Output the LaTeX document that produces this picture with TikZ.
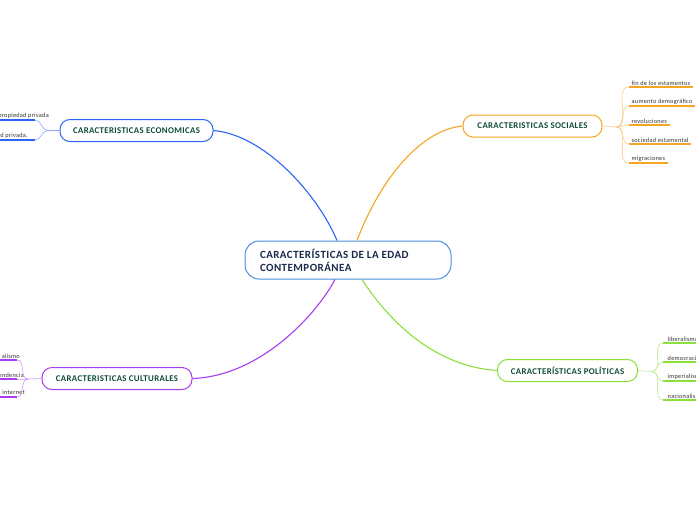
\documentclass[tikz,border=0pt]{standalone}
\usepackage{fontspec}
\setmainfont{Carlito}[LetterSpace=4]
\usepackage{xcolor}
\usetikzlibrary{positioning, calc}

\definecolor{hubblue}{HTML}{4A90D9}
\definecolor{hubtext}{HTML}{1C2B4B}
\definecolor{brtext}{HTML}{0F4D3A}
\definecolor{ecoblue}{HTML}{2B65F5}
\definecolor{socorange}{HTML}{F5A623}
\definecolor{culpurple}{HTML}{A93BF0}
\definecolor{polgreen}{HTML}{8BE03C}
\definecolor{leafgray}{HTML}{333333}

\begin{document}
\begin{tikzpicture}[
        x=1pt, y=-1pt,
        hub/.style={draw=hubblue, line width=1pt, rounded corners=14pt, minimum width=206pt, minimum height=38pt, text width=176pt, align=flush left, font=\fontsize{11}{13}\selectfont\bfseries, text=hubtext, fill=white},
        branch/.style={draw=#1, line width=1pt, rounded corners=10pt, minimum height=22pt, font=\fontsize{8.8}{10}\selectfont\bfseries, text=brtext, fill=white},
        leaf/.style={font=\fontsize{6.3}{8}\selectfont, text=leafgray, inner xsep=2.5pt, inner ysep=1.5pt},
        link/.style={line width=1.1pt, #1},
        twig/.style={line width=0.6pt, #1!55},
        uline/.style={line width=1.5pt, #1},
    ]
    \fill[white] (0,0) rectangle (696,520);
    \useasboundingbox (0,0) rectangle (696,520);
    \clip (0,0) rectangle (696,520);

    % ---- CENTRE ----
    \node[hub] (hub) at (348,260) {CARACTERÍSTICAS DE LA EDAD\\CONTEMPORÁNEA};

    % ---- BRANCHES ----
    \node[branch=ecoblue, minimum width=153pt] (econ) at (136.5,130.5) {CARACTERISTICAS ECONOMICAS};
    \node[branch=socorange, minimum width=139pt] (soc) at (532.5,126) {CARACTERISTICAS SOCIALES};
    \node[branch=culpurple, minimum width=150pt] (cult) at (117,378.5) {CARACTERISTICAS CULTURALES};
    \node[branch=polgreen, minimum width=140pt] (pol) at (567.5,370.5) {CARACTERÍSTICAS POLÍTICAS};

    % ---- LINKS (centre to branches) ----
    \draw[link=ecoblue] ([xshift=-11pt]hub.north) .. controls (318,195) and (265,135) .. (econ.east);
    \draw[link=socorange] ([xshift=9pt]hub.north) .. controls (380,180) and (420,130) .. (soc.west);
    \draw[link=culpurple] ([xshift=-13pt]hub.south) .. controls (318,312) and (262,376) .. (cult.east);
    \draw[link=polgreen] ([xshift=14pt]hub.south) .. controls (385,315) and (430,366) .. (pol.west);

    % ---- SOCIALES leaves ----
    \coordinate (socj) at (616,127);
    \node[leaf, anchor=south west] (soc1) at (629,87) {fin de los estamentos};
    \node[leaf, anchor=south west] (soc2) at (629,106) {aumento demográfico};
    \node[leaf, anchor=south west] (soc3) at (629,125) {revoluciones};
    \node[leaf, anchor=south west] (soc4) at (629,144) {sociedad estamental};
    \node[leaf, anchor=south west] (soc5) at (629,163) {migraciones};
    \draw[twig=socorange] (soc.east) -- (socj);
    \foreach \l in {soc1,soc2,soc3,soc4,soc5} {
        \draw[twig=socorange] (socj) to[out=0, in=180] (\l.south west);
        \draw[uline=socorange] (\l.south west) -- (\l.south east);
    }

    % ---- POLITICAS leaves ----
    \coordinate (polj) at (652,371.5);
    \node[leaf, anchor=south west, inner xsep=4.5pt] (pol1) at (663,343) {liberalismo};
    \node[leaf, anchor=south west, inner xsep=4.5pt] (pol2) at (663,362) {democracia};
    \node[leaf, anchor=south west, inner xsep=4.5pt] (pol3) at (663,381) {imperialismo};
    \node[leaf, anchor=south west, inner xsep=4.5pt] (pol4) at (663,400) {nacionalismo};
    \draw[twig=polgreen] (pol.east) -- (polj);
    \foreach \l in {pol1,pol2,pol3,pol4} {
        \draw[twig=polgreen] (polj) to[out=0, in=180] (\l.south west);
        \draw[uline=polgreen, line width=2pt] (\l.south west) -- (\l.south east);
    }

    % ---- ECONOMICAS leaves ----
    \coordinate (econj) at (48,130.5);
    \coordinate (econ1u) at (35,120);
    \coordinate (econ2u) at (35,140);
    \node[leaf, anchor=south east] (econ1) at (51.5,120) {propiedad privada};
    \node[leaf, anchor=south east] (econ2) at (30.5,140) {d privada,};
    \draw[twig=ecoblue] (econ.west) -- (econj);
    \foreach \u in {econ1u,econ2u} {
        \draw[twig=ecoblue] (econj) to[out=180, in=0] (\u);
        \draw[uline=ecoblue] (\u) -- +(-40,0);
    }

    % ---- CULTURALES leaves ----
    \coordinate (cultj) at (28,379);
    \coordinate (cult1u) at (17,360);
    \coordinate (cult2u) at (17,379);
    \coordinate (cult3u) at (17,397);
    \node[leaf, anchor=south east] (cult1) at (22.5,360) {alismo};
    \node[leaf, anchor=south east] (cult2) at (26.5,379) {endencia};
    \node[leaf, anchor=south east] (cult3) at (27.5,397) {, internet};
    \draw[twig=culpurple] (cult.west) -- (cultj);
    \foreach \u in {cult1u,cult2u,cult3u} {
        \draw[twig=culpurple] (cultj) to[out=180, in=0] (\u);
        \draw[uline=culpurple] (\u) -- +(-40,0);
    }

    \end{tikzpicture}
\end{document}
